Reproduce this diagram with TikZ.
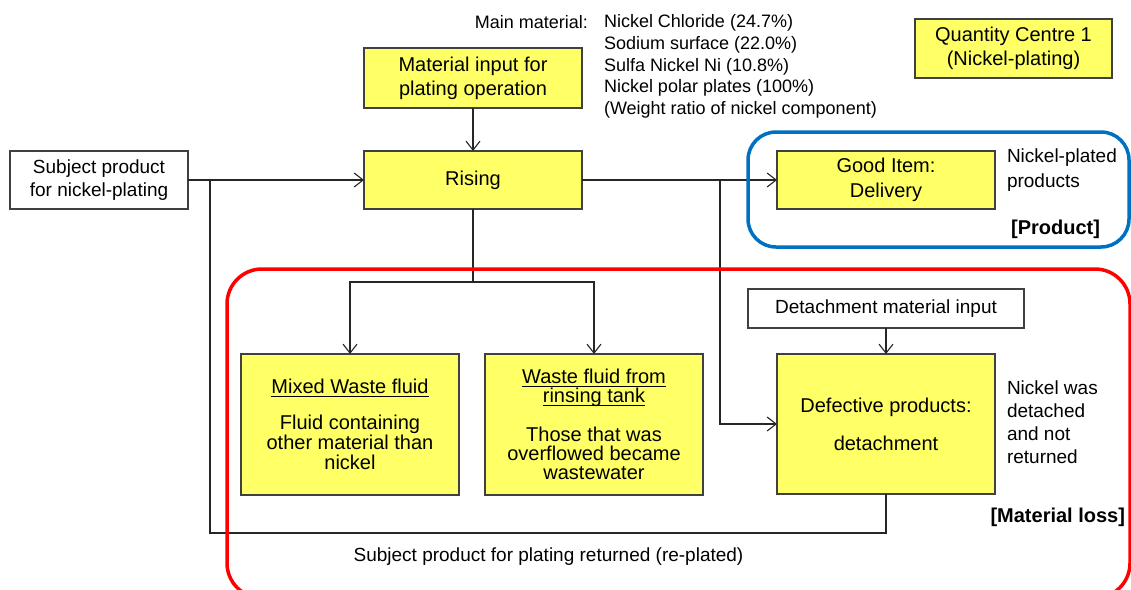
\documentclass[tikz,border=0pt]{standalone}
\usepackage{fontspec}
\setmainfont{Liberation Sans}
\usetikzlibrary{arrows.meta}
\definecolor{boxyellow}{HTML}{FFFF66}
\definecolor{edgegray}{HTML}{404040}
\definecolor{blueframe}{HTML}{0070C0}
\definecolor{redframe}{HTML}{FF0000}
\newsavebox\myulbox
\newcommand\myul[1]{\sbox\myulbox{#1}\usebox\myulbox\llap{\rule[-3.5pt]{\wd\myulbox}{1.6pt}}}
\begin{document}
\begin{tikzpicture}[x=1pt,y=-1pt,
  boxbase/.style={draw=edgegray, line width=1.5pt, inner sep=0pt, outer sep=0pt, align=center,
    font=\fontsize{20}{24}\selectfont},
  ybox/.style={boxbase, fill=boxyellow},
  wbox/.style={boxbase, fill=white, font=\fontsize{19}{23}\selectfont},
  conn/.style={draw=black!85, line width=1.2pt},
  arr/.style={conn, -{Straight Barb[length=9pt,width=14pt,line width=1.1pt]}},
  lbl/.style={inner sep=0pt, outer sep=0pt, font=\fontsize{19}{23}\selectfont},
  frame/.style={line width=3.5pt}
]
\useasboundingbox (0,0) rectangle (1131,589);
\clip (0,0) rectangle (1131,589);
\fill[white] (0,0) rectangle (1131,589);

% boxes
\node[wbox, minimum width=178pt, minimum height=58pt] (subj) at (99,180) {Subject product\\for nickel-plating};
\node[ybox, minimum width=218pt, minimum height=60pt] (matin) at (473,78) {Material input for\\plating operation};
\node[ybox, minimum width=218pt, minimum height=58pt] (rising) at (473,180) {Rising};
\node[ybox, minimum width=218pt, minimum height=58pt, font=\fontsize{20}{25}\selectfont] (good) at (886,180) {Good Item:\\Delivery};
\node[ybox, minimum width=197pt, minimum height=59pt] (qc) at (1013.5,48.5) {Quantity Centre 1\\(Nickel-plating)};
\node[ybox, minimum width=218pt, minimum height=141pt, font=\fontsize{20}{20}\selectfont] (mixed) at (350,424.5)
  {\myul{Mixed Waste fluid}\\[16pt]Fluid containing\\other material than\\nickel};
\node[ybox, minimum width=218pt, minimum height=141pt, font=\fontsize{20}{19}\selectfont] (waste) at (594,424.5)
  {\myul{Waste fluid from}\\\myul{rinsing tank}\\[20pt]Those that was\\overflowed became\\wastewater};
\node[wbox, minimum width=276pt, minimum height=39pt] (detin) at (886,308.5) {Detachment material input};
\node[ybox, minimum width=218pt, minimum height=140pt, font=\fontsize{20}{24}\selectfont] (defect) at (886,424)
  {Defective products:\\[14pt]detachment};

% texts
\node[lbl, anchor=east, font=\fontsize{18}{21.8}\selectfont] (mainlbl) at (588,22.5) {Main material:};
\node[lbl, anchor=west, align=left, font=\fontsize{18}{21.8}\selectfont] (mainlist) at (604,66.5)
  {Nickel Chloride (24.7\%)\\Sodium surface (22.0\%)\\Sulfa Nickel Ni (10.8\%)\\Nickel polar plates (100\%)\\(Weight ratio of nickel component)};
\node[lbl, anchor=west, align=left, font=\fontsize{19}{25}\selectfont] (goodnote) at (1007,170.5) {Nickel-plated\\products};
\node[lbl, anchor=east, font=\fontsize{20}{24}\selectfont\bfseries] (prodlbl) at (1100,229) {[Product]};
\node[lbl, anchor=west, align=left, font=\fontsize{19}{23}\selectfont] (defnote) at (1007,422.5) {Nickel was\\detached\\and not\\returned};
\node[lbl, anchor=east, font=\fontsize{20}{24}\selectfont\bfseries] (losslbl) at (1125,517) {[Material loss]};
\node[lbl] (retlbl) at (548.5,557) {Subject product for plating returned (re-plated)};

% junction coordinates
\coordinate (j1) at (210,180);
\coordinate (j2) at (720,180);
\coordinate (split) at (473,282);
\coordinate (retL) at (210,533);

% connectors
\draw[arr] (matin.south) -- (rising.north);
\draw[arr] (subj.east) -- (rising.west);
\draw[arr] (rising.east) -- (good.west);
\draw[arr] (j2) |- (defect.west);
\draw[conn] (rising.south) -- (split);
\draw[arr] (split) -| (mixed.north);
\draw[arr] (split) -| (waste.north);
\draw[arr] (detin.south) -- (defect.north);
\draw[conn] (defect.south) |- (retL) -- (j1);

% frames
\draw[frame, draw=blueframe, rounded corners=28pt] (748,132) rectangle (1129,247);
\draw[frame, draw=redframe, rounded corners=35pt] (227,269) rectangle (1130,598);
\end{tikzpicture}
\end{document}
